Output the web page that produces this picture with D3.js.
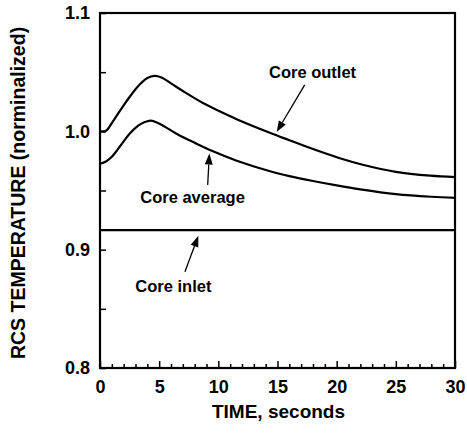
<!DOCTYPE html>
<html><head><meta charset="utf-8">
<script src="https://cdn.jsdelivr.net/npm/d3@7"></script>
<style>
html,body{margin:0;padding:0;background:#fff;}
svg{display:block;font-family:"Liberation Sans",Arial,sans-serif;}
</style></head>
<body><div id="chart"></div>
<script>
const timeOutlet = [0, 0.5, 1.0, 1.5, 2.0, 2.5, 3.0, 3.5, 4.0, 4.6, 5.2, 6.0, 7.1, 8.7, 10.0, 11.5, 14.3, 16.0, 18.0, 20.2, 22.2, 25.0, 27.9, 30];
const coreOutlet = [1.000, 1.0005, 1.007, 1.0145, 1.022, 1.029, 1.0355, 1.041, 1.045, 1.0468, 1.0455, 1.0405, 1.0335, 1.024, 1.0175, 1.0105, 0.999, 0.9925, 0.985, 0.9775, 0.9718, 0.9658, 0.9625, 0.9613];
const timeAverage = [0, 0.5, 1.0, 1.5, 2.0, 2.5, 3.0, 3.5, 4.0, 4.3, 4.8, 5.5, 6.5, 8.0, 9.5, 11.5, 14.3, 16.0, 18.0, 20.0, 22.0, 25.0, 28.0, 30];
const coreAverage = [0.9726, 0.9745, 0.9785, 0.9848, 0.9915, 0.998, 1.003, 1.0065, 1.0085, 1.009, 1.0075, 1.0038, 0.9978, 0.9903, 0.9833, 0.9754, 0.9665, 0.9622, 0.958, 0.9543, 0.951, 0.947, 0.9447, 0.9438];
const timeInlet = [0, 30];
const coreInlet = [0.9165, 0.9165];
const xTicks = [0, 5, 10, 15, 20, 25, 30];
const yTicks = [0.8, 0.9, 1.0, 1.1];
const yTickLabels = ["0.8", "0.9", "1.0", "1.1"];

const W = 467, H = 434;
const m = {left: 100, top: 13, right: 12, bottom: 66};
const iw = W - m.left - m.right, ih = H - m.top - m.bottom;

const svg = d3.select("#chart").append("svg").attr("width", W).attr("height", H);
const g = svg.append("g").attr("transform", `translate(${m.left},${m.top})`);

const x = d3.scaleLinear().domain([0, 30]).range([0, iw]);
const y = d3.scaleLinear().domain([0.8, 1.1]).range([ih, 0]);

const xMinor = d3.range(0, 31, 1).filter(v => v % 5 !== 0);
const yMinor = [0.85, 0.95, 1.05];

const xAxis = d3.axisBottom(x).tickValues(xTicks).tickSizeInner(-7).tickSizeOuter(0).tickPadding(12).tickFormat(d3.format("d"));
g.append("g").attr("transform", `translate(0,${ih})`).call(xAxis);
const xMin = d3.axisBottom(x).tickValues(xMinor).tickSizeInner(-4).tickSizeOuter(0).tickFormat("");
g.append("g").attr("transform", `translate(0,${ih})`).call(xMin);

const yAxis = d3.axisLeft(y).tickValues(yTicks).tickSizeInner(-6).tickSizeOuter(0).tickPadding(10).tickFormat((d,i) => yTickLabels[i]);
g.append("g").call(yAxis);
const yMin = d3.axisLeft(y).tickValues(yMinor).tickSizeInner(-6).tickSizeOuter(0).tickFormat("");
g.append("g").call(yMin);

g.selectAll(".domain").remove();
g.selectAll(".tick line").attr("stroke", "#000").attr("stroke-width", 1.5);
g.selectAll(".tick text").attr("fill", "#000").style("font-size", "18px").style("font-weight", "bold");

g.append("rect").attr("x", 0).attr("y", 0).attr("width", iw).attr("height", ih)
  .attr("fill", "none").attr("stroke", "#000").attr("stroke-width", 2.2);

const line = d3.line().x(d => x(d[0])).y(d => y(d[1])).curve(d3.curveCatmullRom.alpha(0.5));
const series = [
  [timeOutlet, coreOutlet],
  [timeAverage, coreAverage],
  [timeInlet, coreInlet]
];
series.forEach(([t, v]) => {
  g.append("path").datum(t.map((d, i) => [d, v[i]])).attr("d", line)
    .attr("fill", "none").attr("stroke", "#000").attr("stroke-width", 2.2);
});

const annotations = [
  {text: "Core outlet", tx: 17.96, ty: 1.0448, tail: [17.3, 1.0392], tip: [14.93, 0.9995]},
  {text: "Core average", tx: 7.82, ty: 0.9394, tail: [9.1, 0.9546], tip: [9.24, 0.9812]},
  {text: "Core inlet", tx: 6.2, ty: 0.8645, tail: [7.18, 0.8813], tip: [8.31, 0.9118]}
];
annotations.forEach(a => {
  g.append("text").attr("x", x(a.tx)).attr("y", y(a.ty)).attr("text-anchor", "middle")
    .style("font-size", "16.5px").style("font-weight", "bold").attr("fill", "#000").text(a.text);
  const x1 = x(a.tail[0]), y1 = y(a.tail[1]), x2 = x(a.tip[0]), y2 = y(a.tip[1]);
  const ang = Math.atan2(y2 - y1, x2 - x1);
  const hl = 11, hw = 4;
  const bx = x2 - hl * Math.cos(ang), by = y2 - hl * Math.sin(ang);
  g.append("line").attr("x1", x1).attr("y1", y1).attr("x2", bx).attr("y2", by)
    .attr("stroke", "#000").attr("stroke-width", 1.3);
  const px = -Math.sin(ang) * hw, py = Math.cos(ang) * hw;
  g.append("path").attr("d", `M${x2},${y2}L${bx + px},${by + py}L${bx - px},${by - py}Z`).attr("fill", "#000");
});

svg.append("text").attr("x", m.left + iw / 2 + 1).attr("y", 418).attr("text-anchor", "middle")
  .style("font-size", "19px").style("font-weight", "bold").text("TIME, seconds");
svg.append("text").attr("transform", `translate(25,193) rotate(-90)`).attr("text-anchor", "middle")
  .style("font-size", "19.5px").style("font-weight", "bold").text("RCS TEMPERATURE (norminalized)");
</script></body></html>
